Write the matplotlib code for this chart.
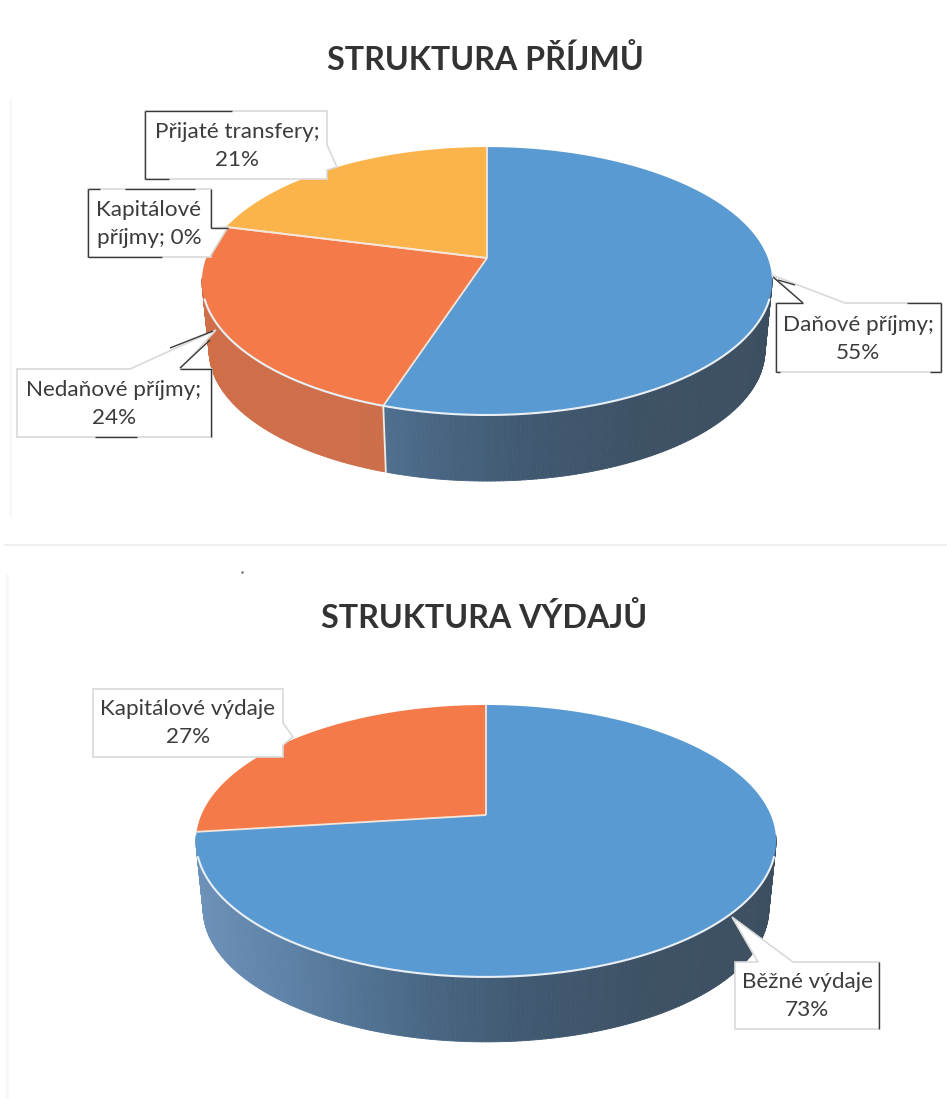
import numpy as np
import matplotlib
matplotlib.use("Agg")
import matplotlib.pyplot as plt
from matplotlib.patches import Polygon
from matplotlib.collections import PolyCollection

plt.rcParams['font.family'] = ['Lato', 'DejaVu Sans']

# data
prijmy_names = ["Daňové příjmy", "Nedaňové příjmy", "Kapitálové příjmy", "Přijaté transfery"]
prijmy_values = [55, 24, 0, 21]
vydaje_names = ["Běžné výdaje", "Kapitálové výdaje"]
vydaje_values = [73, 27]

BLUE = "#5a9ad3"
ORANGE = "#f47b49"
YELLOW = "#fbb44b"
TEXT = "#3c3c3c"
prijmy_colours = [BLUE, ORANGE, ORANGE, YELLOW]
vydaje_colours = [BLUE, ORANGE]

# barva boku podle polohy zleva doprava
side_u = [-1.0, -0.6, -0.15, 0.1, 0.45, 1.0]
side_blue = np.array([[112, 148, 187], [95, 130, 168], [72, 102, 130], [65, 90, 114], [62, 82, 102], [60, 78, 95]]) / 255
side_orange = np.array([[208, 110, 72], [206, 110, 74], [205, 110, 75], [205, 110, 75], [205, 110, 75], [205, 110, 75]]) / 255
side_yellow = np.array([[200, 150, 70]] * 6) / 255


def rim(t, geo):
    # bod na okraji kolacu (t od vrchu po smeru hodin), jednoducha perspektiva
    u, v = np.sin(t), np.cos(t)
    d = 1 + geo["k"] * v
    return geo["x0"] + geo["b"] * u / d, geo["y0"] - geo["a"] * v / d


def side_colour(colour, u):
    table = {BLUE: side_blue, ORANGE: side_orange, YELLOW: side_yellow}[colour]
    return [np.interp(u, side_u, table[:, i]) for i in range(3)]


def draw_pie(ax, values, colours, geo):
    total = float(sum(values))
    edges = np.radians(np.cumsum([0] + list(values)) / total * 360)

    # bok, jen predni cast
    quads, cols, keys = [], [], []
    for i, col in enumerate(colours):
        if values[i] == 0:
            continue
        n = max(int(values[i] * 5), 4)
        ts = np.linspace(edges[i], edges[i + 1], n + 1)
        for t1, t2 in zip(ts[:-1], ts[1:]):
            tm = (t1 + t2) / 2
            if np.cos(tm) > -0.15:
                continue
            x1, y1 = rim(t1, geo)
            x2, y2 = rim(t2, geo)
            low = [(geo["x0"] + geo["s"] * (x - geo["x0"]), geo["y0"] + geo["s"] * (y - geo["y0"]) + geo["depth"])
                   for x, y in ((x2, y2), (x1, y1))]
            quads.append([(x1, y1), (x2, y2)] + low)
            cols.append(side_colour(col, np.sin(tm)))
            keys.append(-np.cos(tm))
    order = np.argsort(keys)
    ax.add_collection(PolyCollection([quads[j] for j in order], facecolors=[cols[j] for j in order],
                                     edgecolors='face', linewidths=0.6, zorder=2))

    # hrana mezi dily na boku
    for e in edges[:-1]:
        if np.cos(e) < -0.3:
            x, y = rim(e, geo)
            ax.plot([x, geo["x0"] + geo["s"] * (x - geo["x0"])],
                    [y, geo["y0"] + geo["s"] * (y - geo["y0"]) + geo["depth"]],
                    color="#f2ece4", lw=1.3, zorder=3)

    # vrchni plocha
    for i, col in enumerate(colours):
        if values[i] == 0:
            continue
        ts = np.linspace(edges[i], edges[i + 1], 200)
        xs, ys = rim(ts, geo)
        pts = [(geo["x0"], geo["y0"])] + list(zip(xs, ys))
        ax.add_patch(Polygon(pts, closed=True, facecolor=col, edgecolor='none', zorder=4))

    # bile hrany
    for i, e in enumerate(edges[:-1]):
        x, y = rim(e, geo)
        ax.plot([geo["x0"], x], [geo["y0"], y], color="#f4e6da", lw=1.3, zorder=5, solid_capstyle='butt')
    ts = np.linspace(0, 2 * np.pi, 720)
    ts = ts[np.cos(ts) < -0.3]
    xs, ys = rim(ts, geo)
    ax.plot(xs, ys, color="#e8eff5", lw=1.5, zorder=5)


def callout(ax, verts, text, cx, cy, colour=TEXT):
    ax.add_patch(Polygon(verts, closed=True, facecolor="white", edgecolor="#d9d9d9", lw=1.2, zorder=6))
    if text is not None:
        ax.text(cx, cy, text, ha='center', va='center', fontsize=16.2, color=colour,
                linespacing=1.55, zorder=7)


def scan_marks(ax, segments):
    # tmave zbytky ramecku ze skenu
    for (x1, y1, x2, y2) in segments:
        ax.plot([x1, x2], [y1, y2], color="#3a3a3a", lw=1.0, zorder=8, solid_capstyle='butt')


fig = plt.figure(figsize=(9.47, 10.99), dpi=100)
ax = fig.add_axes([0, 0, 1, 1])
ax.set_xlim(0, 947)
ax.set_ylim(1099, 0)
ax.axis('off')

# slabe stopy skenu
ax.plot([5, 947], [545, 545], color="#f0f0f0", lw=1.5, zorder=1)
ax.plot([10, 10], [100, 515], color="#f8f8f8", lw=2, zorder=1)
ax.plot([7, 7], [575, 1099], color="#f8f8f8", lw=2, zorder=1)
ax.plot([242], [572], marker='.', ms=1.5, color="#666666", zorder=1)

ax.text(485, 60, "STRUKTURA PŘÍJMŮ", ha='center', va='center', fontsize=23.2, fontweight='bold', color="#333333")
ax.text(484, 617, "STRUKTURA VÝDAJŮ", ha='center', va='center', fontsize=23.2, fontweight='bold', color="#333333")

geo1 = dict(x0=487, y0=258, a=130, b=280.8, k=0.172, s=0.975, depth=70)
geo2 = dict(x0=486, y0=815, a=131, b=284.7, k=0.191, s=0.975, depth=69)

draw_pie(ax, prijmy_values, prijmy_colours, geo1)
draw_pie(ax, vydaje_values, vydaje_colours, geo2)

callout(ax, [(145, 111), (327, 111), (327, 145), (337, 167), (327, 170), (327, 179), (145, 179)],
        f"{prijmy_names[3]};\n{prijmy_values[3]}%", 237, 146)
callout(ax, [(88, 189), (211, 189), (211, 228), (228, 227), (211, 255), (211, 257), (88, 257)],
        f"Kapitálové\npříjmy; {prijmy_values[2]}%", 149, 224)
callout(ax, [(17, 369), (130, 369), (216, 330), (180, 369), (212, 369), (212, 437), (17, 437)],
        f"{prijmy_names[1]};\n{prijmy_values[1]}%", 114, 404)
callout(ax, [(776, 303), (803, 303), (772, 275), (845, 303), (941, 303), (941, 372), (776, 372)],
        f"{prijmy_names[0]};\n{prijmy_values[0]}%", 858, 339)
callout(ax, [(93, 689), (283, 689), (283, 723), (293, 737), (283, 745), (283, 757), (93, 757)],
        f"{vydaje_names[1]}\n{vydaje_values[1]}%", 188, 723)
callout(ax, [(735, 962), (758, 962), (732, 917), (793, 962), (879, 962), (879, 1029), (735, 1029)],
        f"{vydaje_names[0]}\n{vydaje_values[0]}%", 807, 996)

scan_marks(ax, [
    (145, 111, 232, 111), (145, 111, 145, 179), (145, 179, 169, 179),
    (88, 189, 88, 257), (88, 257, 162, 257), (88, 189, 100, 189), (125, 189, 195, 189),
    (211, 189, 211, 228), (211, 228, 228, 228),
    (170, 348, 213, 331), (180, 368, 210, 340), (180, 369, 212, 369),
    (211, 369, 211, 437), (95, 437, 137, 437),
    (776, 303, 776, 372), (776, 303, 803, 303), (776, 372, 780, 372), (773, 277, 803, 303),
    (778, 280, 795, 285), (907, 303, 941, 303), (941, 303, 941, 372), (930, 372, 941, 372),
    (879, 962, 879, 1029),
])

plt.savefig("out.png", dpi=100)
plt.close()
